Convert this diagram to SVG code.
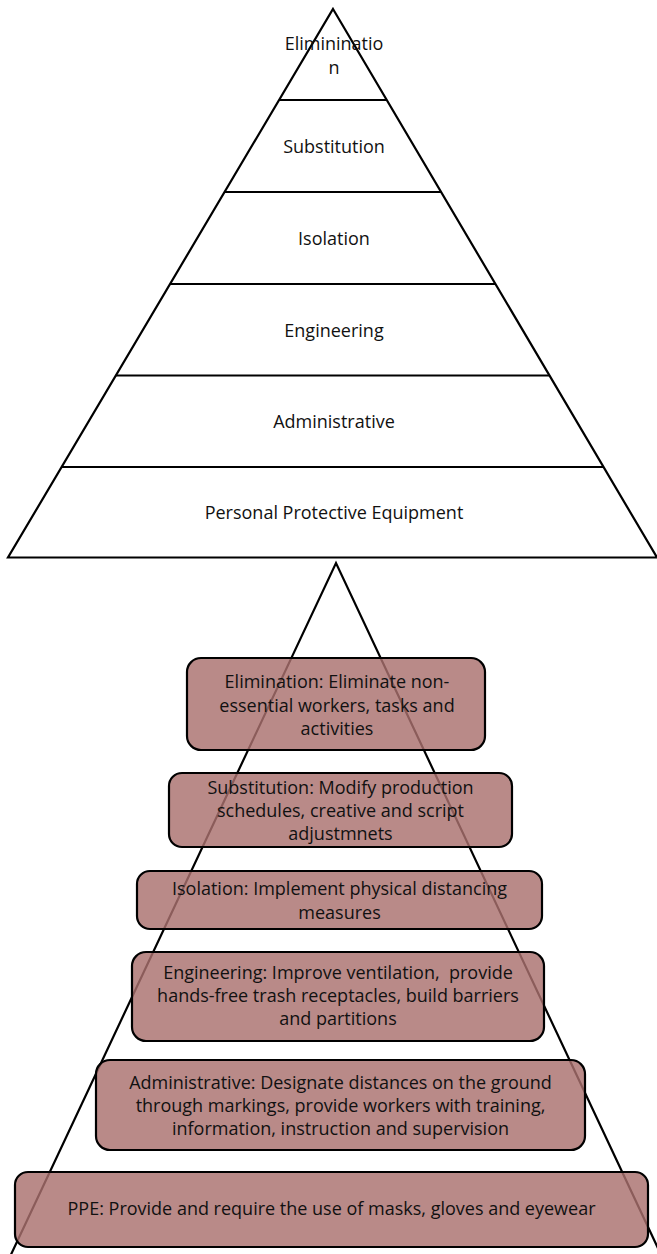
<svg xmlns="http://www.w3.org/2000/svg" width="657" height="1254" viewBox="0 0 657 1254">
<style>
.ln{fill:none;stroke:#000;stroke-width:2.2;stroke-linejoin:miter}
.t{font-family:"Open Sans","Liberation Sans",sans-serif;font-size:18px;fill:#111;text-anchor:middle}
.box{fill:#aa706e;fill-opacity:0.82;stroke:#000;stroke-width:2.2}
</style>
<rect width="657" height="1254" fill="#fff"/>
<g id="pyramid-top">
<polygon class="ln" points="333,9 657,557.5 8,557.5"/>
<line class="ln" x1="279.1" y1="100" x2="386.8" y2="100"/>
<line class="ln" x1="224.6" y1="192" x2="441.1" y2="192"/>
<line class="ln" x1="170" y1="284" x2="495.4" y2="284"/>
<line class="ln" x1="115.8" y1="375.5" x2="549.5" y2="375.5"/>
<line class="ln" x1="61.6" y1="467" x2="603.5" y2="467"/>
</g>
<g id="level-elimination"><text class="t" x="334" y="50">Elimininatio</text><text class="t" x="334" y="74">n</text></g>
<g id="level-substitution"><text class="t" x="334" y="153">Substitution</text></g>
<g id="level-isolation"><text class="t" x="334" y="245">Isolation</text></g>
<g id="level-engineering"><text class="t" x="334" y="337">Engineering</text></g>
<g id="level-administrative"><text class="t" x="334" y="428">Administrative</text></g>
<g id="level-ppe"><text class="t" x="334" y="519">Personal Protective Equipment</text></g>
<g id="pyramid-bottom">
<path class="ln" d="M7.5,1262 L336,563 L664.5,1262"/>
</g>
<g id="box-elimination">
<rect class="box" x="187" y="658" width="298" height="92" rx="14"/>
<text class="t" x="337" y="688">Elimination: Eliminate non-</text>
<text class="t" x="337" y="711.5">essential workers, tasks and</text>
<text class="t" x="337" y="735">activities</text>
</g>
<g id="box-substitution">
<rect class="box" x="169" y="773" width="343" height="74" rx="13"/>
<text class="t" x="340.5" y="794">Substitution: Modify production</text>
<text class="t" x="340.5" y="817">schedules, creative and script</text>
<text class="t" x="340.5" y="840">adjustmnets</text>
</g>
<g id="box-isolation">
<rect class="box" x="137" y="871" width="405" height="58" rx="13"/>
<text class="t" x="339.5" y="895">Isolation: Implement physical distancing</text>
<text class="t" x="339.5" y="918.5">measures</text>
</g>
<g id="box-engineering">
<rect class="box" x="132" y="952" width="412" height="89" rx="14"/>
<text class="t" x="338" y="978.5" xml:space="preserve">Engineering: Improve ventilation,  provide</text>
<text class="t" x="338" y="1001.5">hands-free trash receptacles, build barriers</text>
<text class="t" x="338" y="1025">and partitions</text>
</g>
<g id="box-administrative">
<rect class="box" x="96" y="1060" width="489" height="90" rx="14"/>
<text class="t" x="340.5" y="1088.5">Administrative: Designate distances on the ground</text>
<text class="t" x="340.5" y="1111.5">through markings, provide workers with training,</text>
<text class="t" x="340.5" y="1135">information, instruction and supervision</text>
</g>
<g id="box-ppe">
<rect class="box" x="15" y="1172" width="633" height="75" rx="13"/>
<text class="t" x="331.5" y="1215">PPE: Provide and require the use of masks, gloves and eyewear</text>
</g>
</svg>
